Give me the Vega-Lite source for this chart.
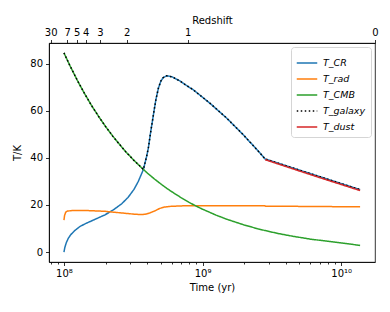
{
  "$schema": "https://vega.github.io/schema/vega-lite/v6.json",
  "width": 326,
  "height": 219,
  "autosize": "none",
  "padding": {"left": 49, "top": 43, "right": 15, "bottom": 50},
  "background": "white",
  "config": {
    "font": "DejaVu Sans",
    "view": {"stroke": "black", "strokeWidth": 0.8},
    "axis": {"domainColor": "black", "domainWidth": 0.8, "tickColor": "black", "tickWidth": 0.8, "tickSize": 3.5, "labelColor": "black", "labelFontSize": 10, "titleColor": "black", "titleFontSize": 10, "titleFontWeight": "normal", "grid": false, "labelPadding": 3, "labelFont": "DejaVu Sans", "titleFont": "DejaVu Sans"},
    "legend": {"orient": "top-right", "offset": 4, "fillColor": "white", "strokeColor": "#d5d5d5", "cornerRadius": 3, "padding": 5, "labelFontSize": 9.5, "labelFontStyle": "italic", "labelFont": "DejaVu Sans", "labelColor": "black", "symbolType": "stroke", "symbolSize": 420, "symbolStrokeWidth": 1.5, "rowPadding": 0, "labelOffset": 5, "labelLimit": 120}
  },
  "data": {"values": [
    {"s": "T_CR", "t": 1e8, "T": 0},
    {"s": "T_CR", "t": 1.015e8, "T": 2.0},
    {"s": "T_CR", "t": 1.04e8, "T": 4.0},
    {"s": "T_CR", "t": 1.074e8, "T": 5.8},
    {"s": "T_CR", "t": 1.12e8, "T": 7.4},
    {"s": "T_CR", "t": 1.2e8, "T": 9.2},
    {"s": "T_CR", "t": 1.3e8, "T": 10.8},
    {"s": "T_CR", "t": 1.42e8, "T": 12.0},
    {"s": "T_CR", "t": 1.55e8, "T": 13.0},
    {"s": "T_CR", "t": 1.675e8, "T": 13.9},
    {"s": "T_CR", "t": 1.977e8, "T": 15.8},
    {"s": "T_CR", "t": 2.27e8, "T": 17.9},
    {"s": "T_CR", "t": 2.61e8, "T": 20.5},
    {"s": "T_CR", "t": 2.9e8, "T": 23.2},
    {"s": "T_CR", "t": 3.2e8, "T": 26.6},
    {"s": "T_CR", "t": 3.44e8, "T": 30.0},
    {"s": "T_CR", "t": 3.74e8, "T": 35.0},
    {"s": "T_CR", "t": 3.95e8, "T": 40.6},
    {"s": "T_CR", "t": 4.06e8, "T": 44.0},
    {"s": "T_CR", "t": 4.2e8, "T": 50.0},
    {"s": "T_CR", "t": 4.4e8, "T": 57.5},
    {"s": "T_CR", "t": 4.6e8, "T": 64.5},
    {"s": "T_CR", "t": 4.8e8, "T": 69.5},
    {"s": "T_CR", "t": 5.0e8, "T": 72.5},
    {"s": "T_CR", "t": 5.2e8, "T": 74.0},
    {"s": "T_CR", "t": 5.5e8, "T": 74.8},
    {"s": "T_CR", "t": 6.0e8, "T": 74.4},
    {"s": "T_CR", "t": 6.86e8, "T": 72.6},
    {"s": "T_CR", "t": 7.6e8, "T": 70.8},
    {"s": "T_CR", "t": 8.59e8, "T": 68.8},
    {"s": "T_CR", "t": 1.133e9, "T": 63.1},
    {"s": "T_CR", "t": 1.495e9, "T": 56.8},
    {"s": "T_CR", "t": 1.973e9, "T": 49.7},
    {"s": "T_CR", "t": 2.6e9, "T": 42.0},
    {"s": "T_CR", "t": 2.83e9, "T": 39.5},
    {"s": "T_CR", "t": 5e9, "T": 34.8},
    {"s": "T_CR", "t": 8e9, "T": 30.9},
    {"s": "T_CR", "t": 1.1e10, "T": 28.3},
    {"s": "T_CR", "t": 1.37e10, "T": 26.5},

    {"s": "T_rad", "t": 1e8, "T": 13.6},
    {"s": "T_rad", "t": 1.01e8, "T": 15.5},
    {"s": "T_rad", "t": 1.029e8, "T": 16.9},
    {"s": "T_rad", "t": 1.06e8, "T": 17.4},
    {"s": "T_rad", "t": 1.137e8, "T": 17.6},
    {"s": "T_rad", "t": 1.5e8, "T": 17.6},
    {"s": "T_rad", "t": 1.977e8, "T": 17.3},
    {"s": "T_rad", "t": 2.61e8, "T": 16.6},
    {"s": "T_rad", "t": 3.2e8, "T": 16.1},
    {"s": "T_rad", "t": 3.64e8, "T": 15.9},
    {"s": "T_rad", "t": 3.95e8, "T": 16.2},
    {"s": "T_rad", "t": 4.2e8, "T": 16.7},
    {"s": "T_rad", "t": 4.54e8, "T": 17.5},
    {"s": "T_rad", "t": 4.9e8, "T": 18.5},
    {"s": "T_rad", "t": 5.3e8, "T": 19.1},
    {"s": "T_rad", "t": 5.9e8, "T": 19.4},
    {"s": "T_rad", "t": 7e8, "T": 19.6},
    {"s": "T_rad", "t": 8.59e8, "T": 19.7},
    {"s": "T_rad", "t": 1.5e9, "T": 19.7},
    {"s": "T_rad", "t": 2.8e9, "T": 19.7},
    {"s": "T_rad", "t": 2.85e9, "T": 19.5},
    {"s": "T_rad", "t": 1.37e10, "T": 19.2},

    {"s": "T_CMB", "t": 1e8, "T": 84.5},
    {"s": "T_CMB", "t": 1.1e8, "T": 79.3},
    {"s": "T_CMB", "t": 1.25e8, "T": 72.8},
    {"s": "T_CMB", "t": 1.4e8, "T": 67.5},
    {"s": "T_CMB", "t": 1.6e8, "T": 61.7},
    {"s": "T_CMB", "t": 1.8e8, "T": 57.1},
    {"s": "T_CMB", "t": 2e8, "T": 53.2},
    {"s": "T_CMB", "t": 2.25e8, "T": 49.2},
    {"s": "T_CMB", "t": 2.5e8, "T": 45.9},
    {"s": "T_CMB", "t": 2.8e8, "T": 42.5},
    {"s": "T_CMB", "t": 3.2e8, "T": 38.9},
    {"s": "T_CMB", "t": 3.6e8, "T": 36.0},
    {"s": "T_CMB", "t": 3.74e8, "T": 35.1},
    {"s": "T_CMB", "t": 4e8, "T": 33.5},
    {"s": "T_CMB", "t": 4.5e8, "T": 31.0},
    {"s": "T_CMB", "t": 5e8, "T": 28.9},
    {"s": "T_CMB", "t": 5.5e8, "T": 27.1},
    {"s": "T_CMB", "t": 6e8, "T": 25.6},
    {"s": "T_CMB", "t": 7e8, "T": 23.1},
    {"s": "T_CMB", "t": 8e8, "T": 21.1},
    {"s": "T_CMB", "t": 9e8, "T": 19.5},
    {"s": "T_CMB", "t": 1e9, "T": 18.2},
    {"s": "T_CMB", "t": 1.25e9, "T": 15.7},
    {"s": "T_CMB", "t": 1.5e9, "T": 13.9},
    {"s": "T_CMB", "t": 2e9, "T": 11.5},
    {"s": "T_CMB", "t": 2.5e9, "T": 9.9},
    {"s": "T_CMB", "t": 2.8e9, "T": 9.2},
    {"s": "T_CMB", "t": 3.5e9, "T": 7.9},
    {"s": "T_CMB", "t": 4.5e9, "T": 6.7},
    {"s": "T_CMB", "t": 6e9, "T": 5.5},
    {"s": "T_CMB", "t": 8e9, "T": 4.6},
    {"s": "T_CMB", "t": 1e10, "T": 3.9},
    {"s": "T_CMB", "t": 1.2e10, "T": 3.3},
    {"s": "T_CMB", "t": 1.37e10, "T": 2.8},

    {"s": "T_galaxy", "t": 1e8, "T": 84.5},
    {"s": "T_galaxy", "t": 1.1e8, "T": 79.3},
    {"s": "T_galaxy", "t": 1.25e8, "T": 72.8},
    {"s": "T_galaxy", "t": 1.4e8, "T": 67.5},
    {"s": "T_galaxy", "t": 1.6e8, "T": 61.7},
    {"s": "T_galaxy", "t": 1.8e8, "T": 57.1},
    {"s": "T_galaxy", "t": 2e8, "T": 53.2},
    {"s": "T_galaxy", "t": 2.25e8, "T": 49.2},
    {"s": "T_galaxy", "t": 2.5e8, "T": 45.9},
    {"s": "T_galaxy", "t": 2.8e8, "T": 42.5},
    {"s": "T_galaxy", "t": 3.2e8, "T": 38.9},
    {"s": "T_galaxy", "t": 3.6e8, "T": 36.0},
    {"s": "T_galaxy", "t": 3.74e8, "T": 35.0},
    {"s": "T_galaxy", "t": 3.95e8, "T": 40.6},
    {"s": "T_galaxy", "t": 4.06e8, "T": 44.0},
    {"s": "T_galaxy", "t": 4.2e8, "T": 50.0},
    {"s": "T_galaxy", "t": 4.4e8, "T": 57.5},
    {"s": "T_galaxy", "t": 4.6e8, "T": 64.5},
    {"s": "T_galaxy", "t": 4.8e8, "T": 69.5},
    {"s": "T_galaxy", "t": 5.0e8, "T": 72.5},
    {"s": "T_galaxy", "t": 5.2e8, "T": 74.0},
    {"s": "T_galaxy", "t": 5.5e8, "T": 74.8},
    {"s": "T_galaxy", "t": 6.0e8, "T": 74.4},
    {"s": "T_galaxy", "t": 6.86e8, "T": 72.6},
    {"s": "T_galaxy", "t": 7.6e8, "T": 70.8},
    {"s": "T_galaxy", "t": 8.59e8, "T": 68.8},
    {"s": "T_galaxy", "t": 1.133e9, "T": 63.1},
    {"s": "T_galaxy", "t": 1.495e9, "T": 56.8},
    {"s": "T_galaxy", "t": 1.973e9, "T": 49.7},
    {"s": "T_galaxy", "t": 2.6e9, "T": 42.0},
    {"s": "T_galaxy", "t": 2.83e9, "T": 39.5},
    {"s": "T_galaxy", "t": 5e9, "T": 34.8},
    {"s": "T_galaxy", "t": 8e9, "T": 30.9},
    {"s": "T_galaxy", "t": 1.1e10, "T": 28.3},
    {"s": "T_galaxy", "t": 1.37e10, "T": 26.5},

    {"s": "T_dust", "t": 2.83e9, "T": 39.2},
    {"s": "T_dust", "t": 5e9, "T": 34.4},
    {"s": "T_dust", "t": 8e9, "T": 30.5},
    {"s": "T_dust", "t": 1.1e10, "T": 27.9},
    {"s": "T_dust", "t": 1.37e10, "T": 26.1}
  ]},
  "layer": [
    {
      "transform": [{"filter": "datum.s != 'T_dust'"}],
      "mark": {"type": "line", "strokeWidth": 1.5, "clip": true},
      "encoding": {
        "x": {"field": "t", "type": "quantitative",
          "scale": {"type": "log", "domain": [7.8e7, 1.755e10], "nice": false},
          "axis": {"orient": "bottom", "title": "Time (yr)", "titlePadding": 4,
            "values": [8e7, 9e7, 1e8, 2e8, 3e8, 4e8, 5e8, 6e8, 7e8, 8e8, 9e8, 1e9, 2e9, 3e9, 4e9, 5e9, 6e9, 7e9, 8e9, 9e9, 1e10],
            "labelExpr": "datum.value == 1e8 ? '10⁸' : datum.value == 1e9 ? '10⁹' : datum.value == 1e10 ? '10¹⁰' : ''",
            "tickSize": {"condition": {"test": "datum.value == 1e8 || datum.value == 1e9 || datum.value == 1e10", "value": 3.5}, "value": 2},
            "labelOverlap": false, "labelFlush": false, "labelBound": false}},
        "y": {"field": "T", "type": "quantitative",
          "scale": {"domain": [-4.2, 88.7], "nice": false, "zero": false},
          "axis": {"title": "T/K", "values": [0, 20, 40, 60, 80], "titlePadding": 7}},
        "color": {"field": "s", "type": "nominal",
          "scale": {"domain": ["T_CR", "T_rad", "T_CMB", "T_galaxy", "T_dust"], "range": ["#1f77b4", "#ff7f0e", "#2ca02c", "#000000", "#d62728"]},
          "legend": {"title": null}},
        "strokeDash": {"field": "s", "type": "nominal",
          "scale": {"domain": ["T_CR", "T_rad", "T_CMB", "T_galaxy", "T_dust"], "range": [[1, 0], [1, 0], [1, 0], [1.5, 2.5], [1, 0]]},
          "legend": {"title": null}}
      }
    },
    {
      "transform": [{"filter": "datum.s == 'T_dust'"}],
      "mark": {"type": "line", "strokeWidth": 1.5, "clip": true},
      "encoding": {
        "x": {"field": "t", "type": "quantitative",
          "scale": {"type": "log", "domain": [7.8e7, 1.755e10], "nice": false},
          "axis": {"orient": "top", "title": "Redshift", "titlePadding": 2, "labelPadding": 2,
            "values": [8.02e7, 1.056e8, 1.236e8, 1.435e8, 1.82e8, 2.84e8, 7.82e8, 1.755e10],
            "labelExpr": "datum.value < 9e7 ? '30' : datum.value < 1.1e8 ? '7' : datum.value < 1.3e8 ? '5' : datum.value < 1.6e8 ? '4' : datum.value < 2.2e8 ? '3' : datum.value < 4e8 ? '2' : datum.value < 2e9 ? '1' : '0'",
            "labelOverlap": false, "labelFlush": false, "labelBound": false}},
        "y": {"field": "T", "type": "quantitative",
          "scale": {"domain": [-4.2, 88.7], "nice": false, "zero": false},
          "axis": {"title": "T/K", "values": [0, 20, 40, 60, 80], "titlePadding": 7}},
        "color": {"field": "s", "type": "nominal",
          "scale": {"domain": ["T_CR", "T_rad", "T_CMB", "T_galaxy", "T_dust"], "range": ["#1f77b4", "#ff7f0e", "#2ca02c", "#000000", "#d62728"]},
          "legend": {"title": null}},
        "strokeDash": {"field": "s", "type": "nominal",
          "scale": {"domain": ["T_CR", "T_rad", "T_CMB", "T_galaxy", "T_dust"], "range": [[1, 0], [1, 0], [1, 0], [1.5, 2.5], [1, 0]]},
          "legend": {"title": null}}
      }
    }
  ],
  "resolve": {"axis": {"x": "independent"}}
}
